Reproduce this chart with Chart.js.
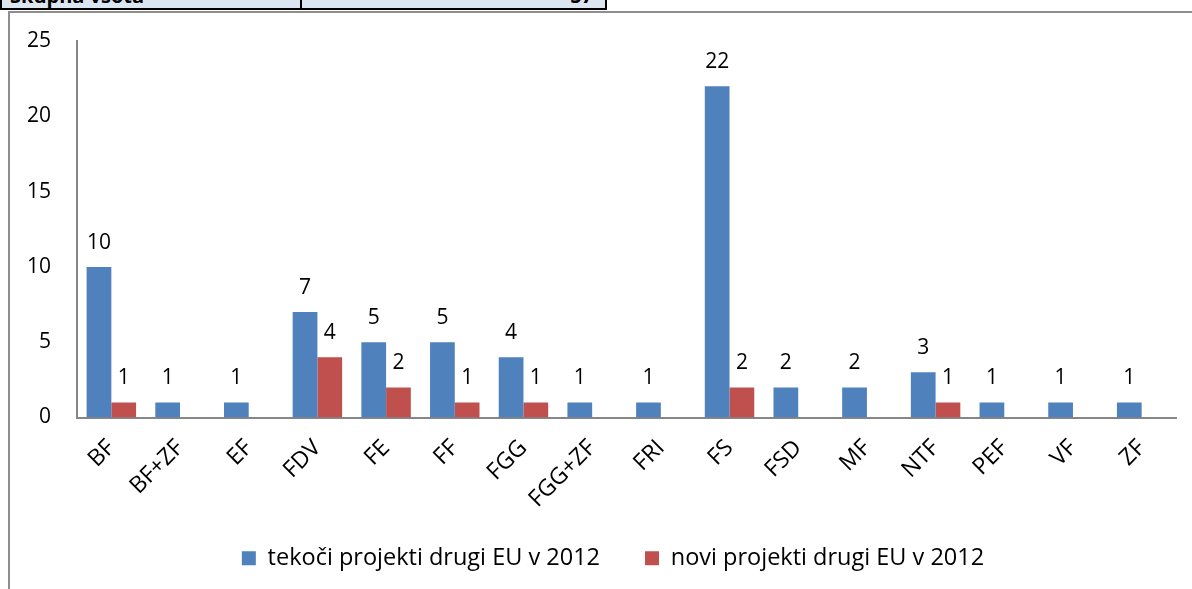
<!DOCTYPE html>
<html>
<head>
<meta charset="utf-8">
<script src="https://cdn.jsdelivr.net/npm/chart.js@4"></script>
<style>
  body { margin: 0; background: #fff; width: 1192px; height: 589px; overflow: hidden; position: relative; font-family: "Open Sans", sans-serif; }
  .tbl { position: absolute; left: 0; top: -14px; height: 22px; display: flex; font-weight: bold; font-size: 20px; }
  .tbl div { background: #dce6f1; border: 2px solid #000; border-top: none; height: 22px; line-height: 20px; box-sizing: content-box; }
  .c1 { width: 290px; padding-left: 8px; }
  .c2 { width: 291px; text-align: right; padding-right: 12px; border-left: none !important; }
  .frame { position: absolute; left: 8px; top: 11px; right: -10px; bottom: -10px; border-top: 2px solid #8e8e8e; border-left: 2px solid #8e8e8e; }
  #wrap { position: absolute; left: 10px; top: 13px; width: 1182px; height: 576px; }
</style>
</head>
<body>
<div class="tbl"><div class="c1">Skupna vsota</div><div class="c2">57</div></div>
<div class="frame"></div>
<div id="wrap"><canvas id="barChart"></canvas></div>
<script>
const labelsArray = ["BF", "BF+ZF", "EF", "FDV", "FE", "FF", "FGG", "FGG+ZF", "FRI", "FS", "FSD", "MF", "NTF", "PEF", "VF", "ZF"];
const tekociValues = [10, 1, 1, 7, 5, 5, 4, 1, 1, 22, 2, 2, 3, 1, 1, 1];
const noviValues = [1, null, null, 4, 2, 1, 1, null, null, 2, null, null, 1, null, null, null];
const yTicks = [0, 5, 10, 15, 20, 25];

const FONT = "'Open Sans', sans-serif";

// values above the bars
const valueLabels = {
    id: 'valueLabels',
    afterDatasetsDraw(chart) {
        const ctx = chart.ctx;
        ctx.save();
        ctx.font = "21px " + FONT;
        ctx.fillStyle = "#000";
        ctx.textAlign = "center";
        ctx.textBaseline = "alphabetic";
        chart.data.datasets.forEach((ds, i) => {
            chart.getDatasetMeta(i).data.forEach((bar, j) => {
                if (ds.data[j] == null) return;
                ctx.fillText(ds.data[j], bar.x, bar.y - 18);
            });
        });
        ctx.restore();
    }
};

// legend sits a bit right of centre and a little higher in the original
const legendShift = {
    id: 'legendShift',
    afterLayout(chart) {
        chart.legend.left += 20;
        chart.legend.right += 20;
        chart.legend.top -= 9;
        chart.legend.bottom -= 9;
    }
};

const CHART = document.getElementById("barChart");

let barChart = new Chart(CHART, {
    type: 'bar',
    data: {
        labels: labelsArray,
        datasets: [
            {
                label: "tekoči projekti drugi EU v 2012",
                backgroundColor: "#4f81bd",
                data: tekociValues,
            },
            {
                label: "novi projekti drugi EU v 2012",
                backgroundColor: "#c0504d",
                data: noviValues,
            }
        ]
    },
    options: {
        responsive: true,
        maintainAspectRatio: false,
        animation: false,
        layout: { padding: { top: 28, right: 16, bottom: 0, left: 0 } },
        datasets: { bar: { categoryPercentage: 0.72, barPercentage: 1.0 } },
        plugins: {
            tooltip: { enabled: false },
            legend: {
                position: 'bottom',
                labels: {
                    boxWidth: 14,
                    boxHeight: 14,
                    padding: 45,
                    color: "#000",
                    font: { family: FONT, size: 23.5 }
                }
            }
        },
        scales: {
            x: {
                grid: { display: false, drawTicks: false },
                border: { color: "#868686", width: 2 },
                ticks: {
                    color: "#000",
                    font: { family: FONT, size: 23 },
                    maxRotation: 45,
                    minRotation: 45,
                    padding: 17
                },
                afterFit(scale) { scale.height = 93; }
            },
            y: {
                min: 0,
                max: 25,
                grid: { display: false, drawTicks: false },
                border: { color: "#868686", width: 2 },
                afterBuildTicks(scale) { scale.ticks = yTicks.map(v => ({ value: v })); },
                ticks: {
                    color: "#000",
                    font: { family: FONT, size: 21 },
                    padding: 26
                },
                afterFit(scale) {
                    scale.width = 67;
                    scale.paddingTop = 14;
                    scale.paddingBottom = 14;
                }
            }
        }
    },
    plugins: [valueLabels, legendShift]
});
</script>
</body>
</html>
